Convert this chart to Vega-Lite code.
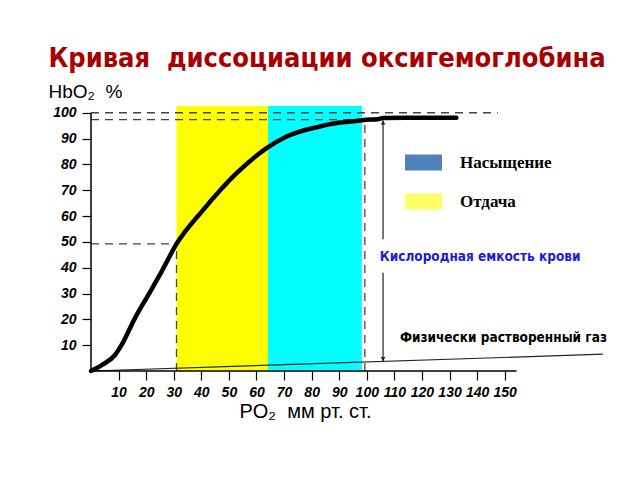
{
  "$schema": "https://vega.github.io/schema/vega-lite/v6.json",
  "width": 524,
  "height": 266,
  "autosize": "none",
  "padding": {"left": 91, "top": 105, "right": 25, "bottom": 109},
  "background": "white",
  "config": {
    "view": {"stroke": null},
    "axis": {"grid": false, "labelOverlap": false, "labelBound": false, "labelFlush": false, "labelSeparation": -40},
    "axisQuantitative": {"labelOverlap": false},
    "axisX": {"labelOverlap": false},
    "axisY": {"labelOverlap": false}
  },
  "title": {
    "text": "Кривая\u00a0 диссоциации оксигемоглобина",
    "font": "DejaVu Sans Condensed, DejaVu Sans",
    "fontWeight": "bold",
    "fontSize": 27,
    "color": "#a80000",
    "frame": "group",
    "anchor": "middle",
    "dx": -26,
    "offset": -12,
    "baseline": "alphabetic"
  },
  "datasets": {
    "bands": [
      {"band": "Отдача", "x0": 31, "x1": 64.2},
      {"band": "Насыщение", "x0": 64.2, "x1": 98.2}
    ],
    "curve": [
      {"po2": 0, "hbo2": 0},
      {"po2": 3.9, "hbo2": 2.3},
      {"po2": 8.7, "hbo2": 6.2},
      {"po2": 11.1, "hbo2": 10.1},
      {"po2": 15.9, "hbo2": 20.4},
      {"po2": 20.8, "hbo2": 29.5},
      {"po2": 25.6, "hbo2": 38.5},
      {"po2": 31, "hbo2": 49.2},
      {"po2": 40.7, "hbo2": 62.4},
      {"po2": 52.8, "hbo2": 76.6},
      {"po2": 63.7, "hbo2": 86.3},
      {"po2": 70.9, "hbo2": 90.8},
      {"po2": 83, "hbo2": 94.7},
      {"po2": 90.2, "hbo2": 96.2},
      {"po2": 96.3, "hbo2": 96.8},
      {"po2": 99, "hbo2": 97.2},
      {"po2": 104, "hbo2": 97.5},
      {"po2": 106, "hbo2": 98},
      {"po2": 132.5, "hbo2": 98.1}
    ],
    "dashed": [
      {"x": 0, "x2": 147.5, "y": 100, "y2": 100},
      {"x": 0, "x2": 96.5, "y": 97.3, "y2": 97.3},
      {"x": 0, "x2": 31, "y": 49.2, "y2": 49.2},
      {"x": 31, "x2": 31, "y": 0, "y2": 49.2},
      {"x": 99.3, "x2": 99.3, "y": 0, "y2": 97}
    ],
    "solid": [
      {"x": 105.9, "x2": 105.9, "y": 97, "y2": 51},
      {"x": 105.9, "x2": 105.9, "y": 38, "y2": 3.8},
      {"x": 0, "x2": 185.6, "y": 0, "y2": 6.5}
    ],
    "axislines": [
      {"x": 0, "x2": 154.3, "y": 0, "y2": 0},
      {"x": 0, "x2": 0, "y": 0, "y2": 100}
    ],
    "heads": [
      {"x": 105.9, "y": 96.2, "dir": "up"},
      {"x": 105.9, "y": 4.6, "dir": "down"}
    ],
    "bluetext": [{"x": 104.7, "y": 44.2, "label": "Кислородная емкость крови"}],
    "blacktext": [{"x": 112, "y": 12.8, "label": "Физически растворенный газ"}]
  },
  "encoding": {
    "x": {
      "type": "quantitative",
      "scale": {"domain": [0, 190], "nice": false, "zero": false},
      "axis": {
        "values": [10, 20, 30, 40, 50, 60, 70, 80, 90, 100, 110, 120, 130, 140, 150],
        "domain": false, "tickSize": 9, "tickColor": "#000", "tickWidth": 1.2,
        "labelOverlap": false, "labelBound": false, "labelFlush": false,
        "labelPadding": 5, "labelFont": "Liberation Sans", "labelFontStyle": "italic",
        "labelFontWeight": "bold", "labelFontSize": 14, "labelColor": "#000", "labelDx": 3,
        "title": "PO₂\u00a0\u00a0мм рт. ст.", "titleX": 214, "titleY": 46, "titleAlign": "center",
        "titleBaseline": "alphabetic", "titleFont": "Liberation Sans", "titleFontWeight": "normal",
        "titleFontSize": 20, "titleColor": "#000"
      }
    },
    "y": {
      "type": "quantitative",
      "scale": {"domain": [0, 103], "nice": false, "zero": false},
      "axis": {
        "values": [10, 20, 30, 40, 50, 60, 70, 80, 90, 100],
        "domain": false, "tickSize": 9, "tickColor": "#000", "tickWidth": 1.2,
        "labelOverlap": false, "labelBound": false, "labelFlush": false,
        "labelPadding": 6, "labelFont": "Liberation Sans", "labelFontStyle": "italic",
        "labelFontWeight": "bold", "labelFontSize": 14, "labelColor": "#000",
        "title": "HbO₂\u00a0\u00a0%", "titleX": -43, "titleY": -8, "titleAngle": 0, "titleAlign": "left",
        "titleBaseline": "alphabetic", "titleFont": "Liberation Sans", "titleFontWeight": "normal",
        "titleFontSize": 19, "titleColor": "#000"
      }
    }
  },
  "layer": [
    {
      "data": {"name": "bands"},
      "mark": {"type": "rect"},
      "encoding": {
        "x": {"field": "x0", "type": "quantitative"},
        "x2": {"field": "x1"},
        "y": {"datum": 0, "type": "quantitative"},
        "y2": {"datum": 102.6},
        "fill": {
          "field": "band", "type": "nominal",
          "scale": {"domain": ["Отдача", "Насыщение"], "range": ["#ffff00", "#00ffff"]},
          "legend": null
        }
      }
    },
    {
      "data": {"name": "bands"},
      "mark": {"type": "square", "opacity": 0},
      "encoding": {
        "x": {"field": "x0", "type": "quantitative"},
        "y": {"datum": 50, "type": "quantitative"},
        "color": {
          "field": "band", "type": "nominal",
          "scale": {"domain": ["Насыщение", "Отдача"], "range": ["#4f81bd", "#ffff66"]},
          "legend": {
            "title": null, "orient": "none", "legendX": 314, "legendY": 39, "padding": 0,
            "symbolType": "M-1,-0.43H1V0.43H-1Z", "symbolSize": 1369, "symbolOpacity": 1,
            "symbolStrokeWidth": 0, "rowPadding": 12, "labelOffset": 18,
            "labelFont": "Liberation Serif", "labelFontWeight": "bold", "labelFontSize": 17,
            "labelColor": "#000",
            "labelExpr": "datum.label == 'Отдача' ? '\u00a0\u00a0' + datum.label : datum.label"
          }
        }
      }
    },
    {
      "data": {"name": "dashed"},
      "mark": {"type": "rule", "color": "#444", "strokeWidth": 1.3, "strokeDash": [8, 6]},
      "encoding": {
        "x": {"field": "x", "type": "quantitative"},
        "x2": {"field": "x2"},
        "y": {"field": "y", "type": "quantitative"},
        "y2": {"field": "y2"}
      }
    },
    {
      "data": {"name": "solid"},
      "mark": {"type": "rule", "color": "#222", "strokeWidth": 1.2},
      "encoding": {
        "x": {"field": "x", "type": "quantitative"},
        "x2": {"field": "x2"},
        "y": {"field": "y", "type": "quantitative"},
        "y2": {"field": "y2"}
      }
    },
    {
      "data": {"name": "axislines"},
      "mark": {"type": "rule", "color": "#000", "strokeWidth": 1.5},
      "encoding": {
        "x": {"field": "x", "type": "quantitative"},
        "x2": {"field": "x2"},
        "y": {"field": "y", "type": "quantitative"},
        "y2": {"field": "y2"}
      }
    },
    {
      "data": {"name": "curve"},
      "mark": {"type": "line", "color": "#000", "strokeWidth": 4.5, "interpolate": "monotone", "strokeCap": "round"},
      "encoding": {
        "x": {"field": "po2", "type": "quantitative"},
        "y": {"field": "hbo2", "type": "quantitative"}
      }
    },
    {
      "data": {"name": "heads"},
      "mark": {"type": "point", "filled": true, "color": "#222", "size": 22, "opacity": 1},
      "encoding": {
        "x": {"field": "x", "type": "quantitative"},
        "y": {"field": "y", "type": "quantitative"},
        "shape": {
          "field": "dir", "type": "nominal",
          "scale": {"domain": ["up", "down"], "range": ["triangle-up", "triangle-down"]},
          "legend": null
        }
      }
    },
    {
      "data": {"name": "bluetext"},
      "mark": {"type": "text", "align": "left", "baseline": "middle", "font": "DejaVu Sans Condensed, DejaVu Sans", "fontWeight": "bold", "fontSize": 13.5, "color": "#1c1cd6"},
      "encoding": {
        "x": {"field": "x", "type": "quantitative"},
        "y": {"field": "y", "type": "quantitative"},
        "text": {"field": "label"}
      }
    },
    {
      "data": {"name": "blacktext"},
      "mark": {"type": "text", "align": "left", "baseline": "middle", "font": "DejaVu Sans Condensed, DejaVu Sans", "fontWeight": "bold", "fontSize": 13.5, "color": "#000"},
      "encoding": {
        "x": {"field": "x", "type": "quantitative"},
        "y": {"field": "y", "type": "quantitative"},
        "text": {"field": "label"}
      }
    }
  ]
}
